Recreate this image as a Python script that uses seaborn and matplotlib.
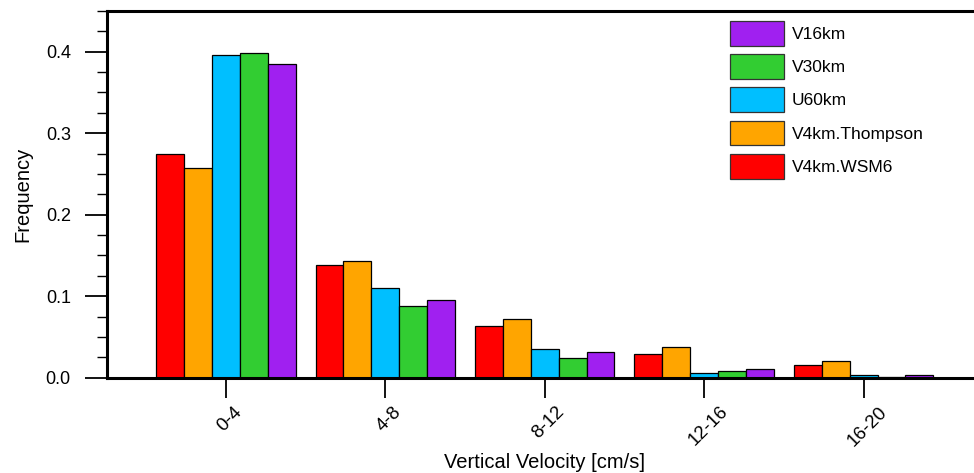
import matplotlib
matplotlib.use("Agg")
import matplotlib.pyplot as plt
import matplotlib.transforms as mtransforms
import seaborn as sns
import pandas as pd
from matplotlib.ticker import MultipleLocator, FormatStrFormatter

bins = ["0-4", "4-8", "8-12", "12-16", "16-20"]
series = ["V4km.WSM6", "V4km.Thompson", "U60km", "V30km", "V16km"]
v4km_wsm6 = [0.2745, 0.1383, 0.0634, 0.0290, 0.0160]
v4km_thompson = [0.2577, 0.1428, 0.0717, 0.0380, 0.0209]
u60km = [0.3956, 0.1097, 0.0348, 0.0054, 0.0030]
v30km = [0.3980, 0.0880, 0.0238, 0.0086, 0.0012]
v16km = [0.3849, 0.0953, 0.0312, 0.0107, 0.0035]
colors = ["#FF0000", "#FFA500", "#00BFFF", "#32CD32", "#A020F0"]

values = [v4km_wsm6, v4km_thompson, u60km, v30km, v16km]
df = pd.DataFrame({
    "bin": [b for s in series for b in bins],
    "series": [s for s in series for _ in bins],
    "freq": [v for vals in values for v in vals],
})

sns.set_style("white")
plt.rcParams["font.family"] = ["Liberation Sans", "DejaVu Sans"]
plt.rcParams.update({"text.color": "black", "axes.labelcolor": "black",
                     "xtick.color": "black", "ytick.color": "black"})

W, H = 974, 473
fig = plt.figure(figsize=(W / 100, H / 100), dpi=100)
left, right, top, bottom = 106.7, 982.8, 11.0, 377.7
ax = fig.add_axes([left / W, (H - bottom) / H, (right - left) / W, (bottom - top) / H])

sns.barplot(data=df, x="bin", y="freq", hue="series", order=bins, hue_order=series,
            palette=colors, width=0.875, edgecolor="black", linewidth=0.9,
            saturation=1, ax=ax, legend=True)

ax.set_xlim(-0.748, 4.748)
ax.set_ylim(0, 0.45)

for side in ["left", "top", "bottom"]:
    ax.spines[side].set_visible(True)
    ax.spines[side].set_linewidth(2.2)
    ax.spines[side].set_color("black")
ax.spines["right"].set_visible(False)

ax.yaxis.set_major_locator(MultipleLocator(0.1))
ax.yaxis.set_minor_locator(MultipleLocator(0.025))
ax.yaxis.set_major_formatter(FormatStrFormatter("%.1f"))
ax.tick_params(axis="y", which="major", direction="out", length=15.8, width=1.3,
               labelsize=13, pad=10, left=True, colors="black")
ax.tick_params(axis="y", which="minor", direction="out", length=7.2, width=1.0,
               left=True, colors="black")
ax.tick_params(axis="x", which="major", direction="out", length=14.4, width=1.3,
               labelsize=13.5, pad=4, bottom=True, colors="black")
shift = mtransforms.ScaledTranslation(4 / 100, 0, fig.dpi_scale_trans)
for lbl in ax.get_xticklabels():
    lbl.set_rotation(45)
    lbl.set_ha("center")
    lbl.set_va("top")
    lbl.set_transform(lbl.get_transform() + shift)

ax.set_xlabel("Vertical Velocity [cm/s]", fontsize=14.5, color="black")
ax.xaxis.label.set_va("baseline")
ax.xaxis.set_label_coords(0.5, -(468 - bottom) / (bottom - top))
ax.set_ylabel("Frequency", fontsize=14.5, color="black")
ax.yaxis.set_label_coords(-(left - 23) / (right - left), 0.5)
ax.yaxis.label.set_va("center")

handles, labels = ax.get_legend_handles_labels()
if ax.get_legend() is not None:
    ax.get_legend().remove()
leg = fig.legend(handles[::-1], labels[::-1], loc="upper left",
                 bbox_to_anchor=(730 / W, (H - 21) / H), bbox_transform=fig.transFigure,
                 frameon=False, fontsize=12.5, handlelength=3.1, handleheight=1.8,
                 labelspacing=0.5, handletextpad=0.45, borderpad=0, borderaxespad=0)
for p in leg.get_patches():
    p.set_edgecolor("#333333")
    p.set_linewidth(0.9)
for t in leg.get_texts():
    t.set_color("black")

fig.savefig("out.png", dpi=100)
